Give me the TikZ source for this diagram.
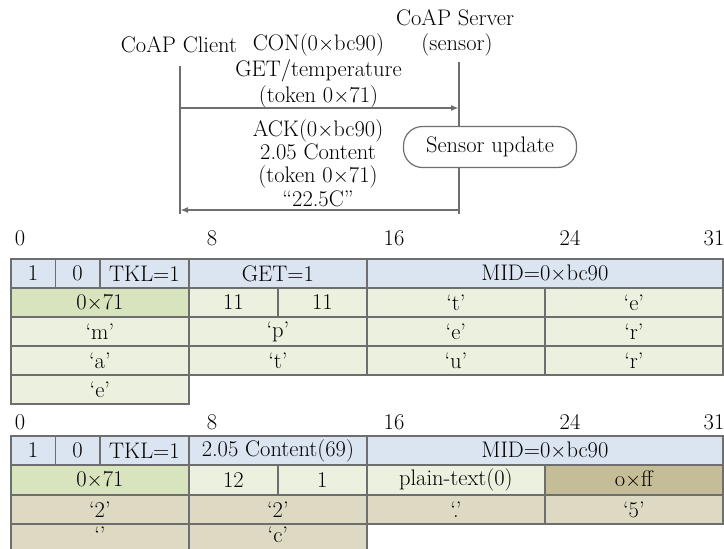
\documentclass[tikz,border=0pt]{standalone}
\usepackage{tikz}
\usetikzlibrary{arrows.meta}

\definecolor{hdrblue}{RGB}{219,229,241}
\definecolor{optgreen}{RGB}{235,241,222}
\definecolor{tokgreen}{RGB}{215,228,189}
\definecolor{paytan}{RGB}{221,217,195}
\definecolor{marktan}{RGB}{196,189,151}
\definecolor{rulegray}{RGB}{110,110,110}

\begin{document}
\begin{tikzpicture}[x=1pt, y=-1pt,
                    every node/.style={font=\fontsize{22.5}{25}\selectfont, inner sep=0pt},
                    cell/.style={draw=rulegray, line width=1.8pt, anchor=north west, minimum height=29pt},
                    lifeline/.style={draw=rulegray, line width=1.6pt},
                    msg/.style={draw=rulegray, line width=1.6pt, -{Latex[length=8pt,width=6pt]}},
                    procbox/.style={draw=rulegray, line width=1.2pt, fill=white, rounded corners=19pt,
                                    minimum width=173pt, minimum height=41pt}
]
\useasboundingbox (0,0) rectangle (724,549);

% message sequence
\node (client) at (179,45) {CoAP Client};
\node (server) at (455,18) {CoAP Server};
\node (sensor) at (457,45) {(sensor)};

\coordinate (cTop) at (180,66);
\coordinate (cBot) at (180,214);
\coordinate (sTop) at (459,62);
\coordinate (sBot) at (459,214);
\coordinate (reqA) at (180,108);
\coordinate (reqB) at (459,108);
\coordinate (rspA) at (459,210);
\coordinate (rspB) at (180,210);

\draw[lifeline] (cTop) -- (cBot);
\draw[lifeline] (sTop) -- (sBot);

\node[align=center, font=\fontsize{22.5}{26}\selectfont] (reqtext) at (318.5,71)
  {CON(0$\times$bc90)\\GET/temperature\\(token 0$\times$71)};
\draw[msg] (reqA) -- (reqB);

\node[align=center, font=\fontsize{22.5}{23.4}\selectfont] (rsptext) at (318,163)
  {ACK(0$\times$bc90)\\2.05 Content\\(token 0$\times$71)\\``22.5C''};
\draw[msg] (rspA) -- (rspB);

\node[procbox] (upd) at (490,147) {Sensor update};

% request frame
\foreach \b/\x in {0/20, 8/212, 16/394, 24/570, 31/714}
  \node (bitA\b) at (\x,238) {\b};

\foreach \n/\c/\r/\w/\f/\t in {a1/0/0/2/hdrblue/1, a2/2/0/2/hdrblue/0, a3/4/0/4/hdrblue/TKL=1,
    a4/8/0/8/hdrblue/GET=1, a5/16/0/16/hdrblue/MID=0$\times$bc90,
    b1/0/1/8/tokgreen/0$\times$71, b2/8/1/4/optgreen/11, b3/12/1/4/optgreen/11,
    b4/16/1/8/optgreen/`t', b5/24/1/8/optgreen/`e',
    c1/0/2/8/optgreen/`m', c2/8/2/8/optgreen/`p', c3/16/2/8/optgreen/`e', c4/24/2/8/optgreen/`r',
    d1/0/3/8/optgreen/`a', d2/8/3/8/optgreen/`t', d3/16/3/8/optgreen/`u', d4/24/3/8/optgreen/`r',
    e1/0/4/8/optgreen/`e'}
  \node[cell, fill=\f, minimum width=\w*22.25pt] (req\n) at (10+\c*22.25, 258+\r*29) {\t};

% response frame
\foreach \b/\x in {0/20, 8/212, 16/394, 24/570, 31/714}
  \node (bitB\b) at (\x,422) {\b};

\foreach \n/\c/\r/\w/\f/\t in {a1/0/0/2/hdrblue/1, a2/2/0/2/hdrblue/0, a3/4/0/4/hdrblue/TKL=1,
    a4/8/0/8/hdrblue/2.05 Content(69), a5/16/0/16/hdrblue/MID=0$\times$bc90,
    b1/0/1/8/tokgreen/0$\times$71, b2/8/1/4/optgreen/12, b3/12/1/4/optgreen/1,
    b4/16/1/8/optgreen/plain-text(0), b5/24/1/8/marktan/o$\times$ff,
    c1/0/2/8/paytan/`2', c2/8/2/8/paytan/`2', c3/16/2/8/paytan/`.', c4/24/2/8/paytan/`5'}
  \node[cell, fill=\f, minimum width=\w*22.25pt] (rsp\n) at (10+\c*22.25, 435+\r*29.5) {\t};
% last row runs off the page
\foreach \n/\c/\t in {d1/0/`', d2/8/`c'}
  \node[cell, fill=paytan, minimum width=8*22.25pt, text depth=9pt] (rsp\n) at (10+\c*22.25, 523.5) {\t};
\end{tikzpicture}
\end{document}
